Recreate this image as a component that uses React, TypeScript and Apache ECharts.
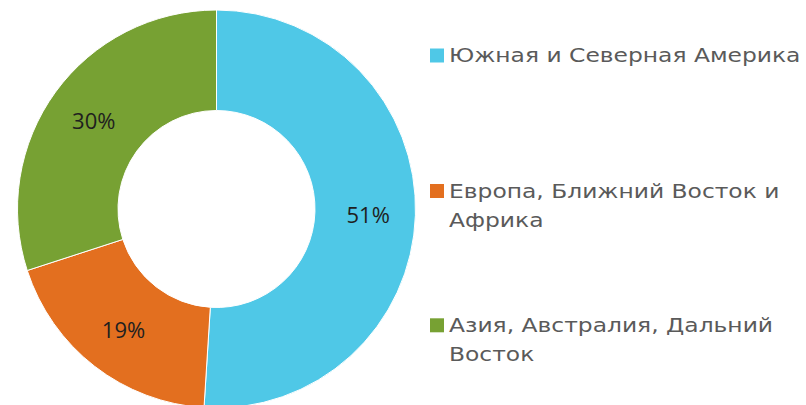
import React, { useEffect, useRef } from "react";
import * as echarts from "echarts";

const categories = [
  "Южная и Северная Америка",
  "Европа, Ближний Восток и Африка",
  "Азия, Австралия, Дальний Восток",
];
const shares = [51, 19, 30];
const legendLines = [
  ["Южная и Северная Америка"],
  ["Европа, Ближний Восток и", "Африка"],
  ["Азия, Австралия, Дальний", "Восток"],
];
const colors = ["#4FC8E7", "#E36F1F", "#77A133"];

export default function App() {
  const ref = useRef<HTMLDivElement>(null);
  useEffect(() => {
    if (!ref.current) return;
    const chart = echarts.init(ref.current, undefined, { renderer: "svg" });
    const markerCenters = [55.5, 191, 325.3];
    const lineH = 29.3;
    const legendGraphics: any[] = [];
    categories.forEach((c, i) => {
      legendGraphics.push({
        type: "rect",
        shape: { x: 430, y: markerCenters[i] - 7, width: 14, height: 14 },
        style: { fill: colors[i] },
        silent: true,
      });
      legendGraphics.push({
        type: "text",
        x: 449,
        y: markerCenters[i] - lineH / 2,
        scaleX: 1.17,
        style: {
          text: legendLines[i].join("\n"),
          fontFamily: "DejaVu Sans",
          fontSize: 20,
          lineHeight: lineH,
          fill: "#5A5A5A",
          align: "left",
          verticalAlign: "top",
        },
        silent: true,
      });
    });
    chart.setOption({
      animation: false,
      color: colors,
      graphic: legendGraphics,
      series: [
        {
          type: "pie",
          center: [216.5, 209],
          radius: [98.5, 199],
          startAngle: 90,
          clockwise: true,
          avoidLabelOverlap: false,
          itemStyle: { borderColor: "#ffffff", borderWidth: 1 },
          label: {
            show: true,
            position: "inside",
            formatter: "{d}%",
            fontFamily: "Open Sans",
            fontSize: 22,
            color: "#1F1F1F",
          },
          labelLine: { show: false },
          emphasis: { disabled: true },
          data: categories.map((name, i) => ({ name, value: shares[i] })),
        },
      ],
    });
    return () => chart.dispose();
  }, []);
  return (
    <div
      ref={ref}
      style={{ position: "absolute", left: 0, top: 0, width: 806, height: 405, background: "#fff" }}
    />
  );
}
